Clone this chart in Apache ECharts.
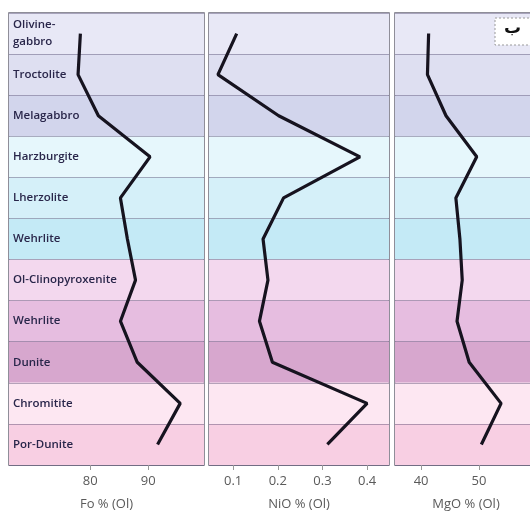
<!DOCTYPE html>
<html>

<head>
	<meta charset="utf-8">
	<title>Olivine profile</title>
	<script src="https://cdn.jsdelivr.net/npm/echarts@6.0.0/dist/echarts.min.js"></script>
	<style>
		html, body { margin: 0; padding: 0; background: #fff; }
		#main { width: 530px; height: 513px; }
	</style>
</head>

<body>
	<div id="main"></div>
	<script>
		// 岩性（自上而下）
		var rocks = ['Olivine-gabbro', 'Troctolite', 'Melagabbro', 'Harzburgite', 'Lherzolite', 'Wehrlite',
			'Ol-Clinopyroxenite', 'Wehrlite', 'Dunite', 'Chromitite', 'Por-Dunite'];
		// 三个剖面的数值
		var fo = [78.3, 77.9, 81.4, 90.3, 85.2, 86.4, 87.8, 85.2, 88.1, 95.5, 91.6];
		var nio = [0.108, 0.066, 0.202, 0.384, 0.213, 0.167, 0.178, 0.159, 0.188, 0.40, 0.311];
		var mgo = [41.3, 41.1, 44.3, 49.6, 46.0, 46.7, 47.1, 46.2, 48.3, 53.8, 50.4];
		// 刻度
		var foTicks = [80, 90];
		var nioTicks = [0.1, 0.2, 0.3, 0.4];
		var mgoTicks = [40, 50];

		// 每一行的底色
		var rowColors = ['#e8e8f6', '#dedff1', '#d2d5ec', '#e6f7fc', '#d5f0f9', '#c4eaf6',
			'#f3d8ee', '#e6bde0', '#d7a7ce', '#fde7f2', '#f8cfe3'];

		var myChart = echarts.init(document.getElementById('main'), null, { renderer: 'canvas' });

		// outerBoundsMode none: 不让 v6 自动缩小网格
		var gridBase = {
			top: 13, height: 452, show: true, outerBoundsMode: 'none',
			borderColor: '#6b6a78', borderWidth: 1.5, backgroundColor: 'transparent'
		};

		function xAx(idx, min, max, ticks, name) {
			return {
				type: 'value', gridIndex: idx, min: min, max: max,
				name: name, nameLocation: 'middle', nameGap: 33,
				nameTextStyle: { color: '#5a5a5a', fontSize: 13, fontFamily: 'Open Sans' },
				axisLine: { show: false },
				axisTick: { show: true, length: 5, customValues: ticks, lineStyle: { color: '#999' } },
				axisLabel: { customValues: ticks, color: '#5a5a5a', fontSize: 13, margin: 10, fontFamily: 'Open Sans' },
				splitLine: { show: false }
			};
		}

		function yAx(idx, showLabel) {
			return {
				type: 'category', gridIndex: idx, data: rocks, inverse: true,
				axisLine: { show: false },
				axisTick: { show: false },
				axisLabel: {
					show: showLabel, inside: true, interval: 0, margin: 4,
					color: '#29264a', fontSize: 11.5, fontWeight: 600, fontFamily: 'Open Sans',
					lineHeight: 17,
					formatter: function (v) { return v.replace('Olivine-', 'Olivine-\n'); }
				},
				splitLine: { show: true, interval: 0, lineStyle: { color: 'rgba(70,60,100,0.4)', width: 1 } },
				splitArea: { show: true, interval: 0, areaStyle: { color: rowColors } }
			};
		}

		function lineSeries(idx, data) {
			return {
				type: 'line', xAxisIndex: idx, yAxisIndex: idx,
				data: data.map(function (v, i) { return [v, i]; }),
				symbol: 'none',
				lineStyle: { color: '#16131f', width: 3.2 },
				z: 5
			};
		}

		var option = {
			animation: false,
			backgroundColor: '#fff',
			grid: [
				Object.assign({ left: 9, width: 195 }, gridBase),
				Object.assign({ left: 209, width: 180 }, gridBase),
				Object.assign({ left: 395, width: 142 }, gridBase)
			],
			xAxis: [
				xAx(0, 66, 99.6, foTicks, 'Fo % (Ol)'),
				xAx(1, 0.046, 0.449, nioTicks, 'NiO % (Ol)'),
				xAx(2, 35.5, 60, mgoTicks, 'MgO % (Ol)')
			],
			yAxis: [yAx(0, true), yAx(1, false), yAx(2, false)],
			series: [lineSeries(0, fo), lineSeries(1, nio), lineSeries(2, mgo)],
			// 右上角被裁掉的小图例
			graphic: [
				{
					type: 'rect', shape: { x: 495, y: 18, width: 45, height: 27 },
					style: { fill: '#fff', stroke: '#9a9a9a', lineWidth: 1, lineDash: [2, 2] }, z: 10
				},
				{
					type: 'text', x: 504, y: 20,
					style: { text: 'ب', fill: '#111', fontSize: 17, fontWeight: 'bold', fontFamily: 'DejaVu Sans' }, z: 11
				}
			]
		};

		myChart.setOption(option);
	</script>
</body>

</html>
